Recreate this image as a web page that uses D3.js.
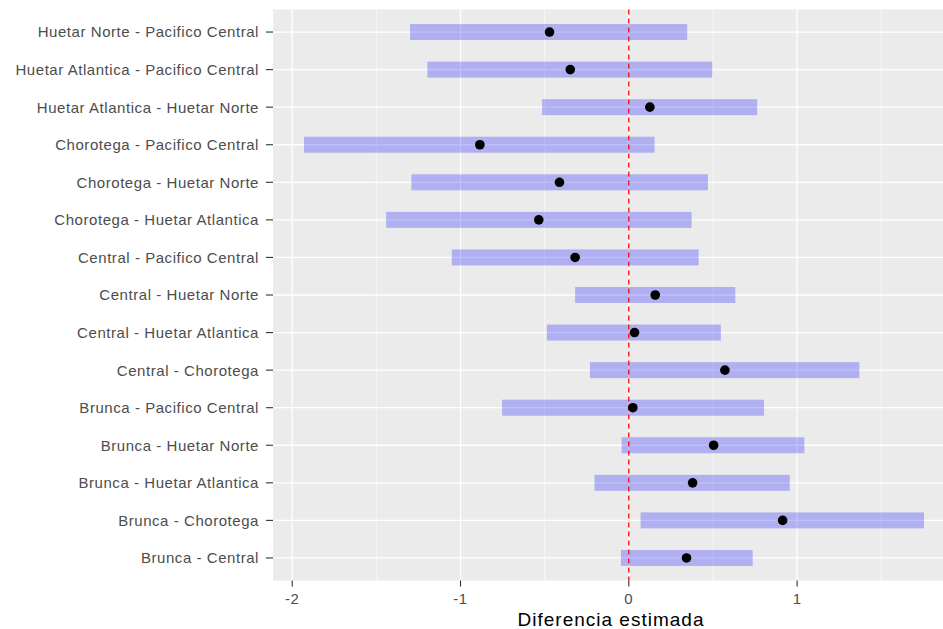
<!DOCTYPE html>
<html>
<head>
<meta charset="utf-8">
<script src="https://cdn.jsdelivr.net/npm/d3@7"></script>
<style>
  body { margin: 0; background: #fff; }
  svg { display: block; font-family: "Liberation Sans", Arial, sans-serif; }
  .grid-major { stroke: #fff; stroke-width: 1.3; }
  .grid-minor { stroke: #fff; stroke-width: 0.6; }
  .tick-label { fill: #4d4d4d; font-size: 15px; letter-spacing: 0.55px; }
  .tick-mark { stroke: #333; stroke-width: 1.1; }
</style>
</head>
<body>
<div id="chart"></div>
<script>
//////////////////////////////////////////////////////////
///////////////////////// Data ///////////////////////////
//////////////////////////////////////////////////////////

// Comparisons, bottom to top as drawn
var comparisons = [
  "Brunca - Central",
  "Brunca - Chorotega",
  "Brunca - Huetar Atlantica",
  "Brunca - Huetar Norte",
  "Brunca - Pacifico Central",
  "Central - Chorotega",
  "Central - Huetar Atlantica",
  "Central - Huetar Norte",
  "Central - Pacifico Central",
  "Chorotega - Huetar Atlantica",
  "Chorotega - Huetar Norte",
  "Chorotega - Pacifico Central",
  "Huetar Atlantica - Huetar Norte",
  "Huetar Atlantica - Pacifico Central",
  "Huetar Norte - Pacifico Central"
];
var estimate = [0.343, 0.914, 0.379, 0.504, 0.024, 0.571, 0.034, 0.157, -0.319, -0.535, -0.412, -0.885, 0.125, -0.348, -0.471];
var lower    = [-0.047, 0.070, -0.204, -0.043, -0.753, -0.231, -0.487, -0.319, -1.052, -1.442, -1.292, -1.930, -0.515, -1.197, -1.300];
var upper    = [0.736, 1.754, 0.956, 1.043, 0.803, 1.370, 0.547, 0.633, 0.415, 0.373, 0.470, 0.153, 0.763, 0.496, 0.347];
var xTicks = [-2, -1, 0, 1];
var xTitle = "Diferencia estimada";

var rows = comparisons.map(function(d, i) {
  return {name: d, est: estimate[i], lo: lower[i], hi: upper[i]};
});

//////////////////////////////////////////////////////////
//////////////////////// Set-up //////////////////////////
//////////////////////////////////////////////////////////

var width = 943, height = 629;
var panel = {left: 273, right: 955, top: 9.5, bottom: 580.5};

var svg = d3.select("#chart").append("svg")
  .attr("width", width)
  .attr("height", height);

// ggplot style 5% expansion of the data range
var xmin = d3.min(lower), xmax = d3.max(upper);
var pad = (xmax - xmin) * 0.05;
var x = d3.scaleLinear()
  .domain([xmin - pad, xmax + pad])
  .range([panel.left, panel.right]);

// discrete axis with 0.6 unit expansion on both ends
var n = comparisons.length;
var step = (panel.bottom - panel.top) / (n - 1 + 1.2);
var y = d3.scalePoint()
  .domain(comparisons.slice().reverse())
  .range([panel.top + 0.6 * step, panel.bottom - 0.6 * step]);

//////////////////////////////////////////////////////////
//////////////////////// Panel ///////////////////////////
//////////////////////////////////////////////////////////

svg.append("rect")
  .attr("x", panel.left)
  .attr("y", panel.top)
  .attr("width", panel.right - panel.left)
  .attr("height", panel.bottom - panel.top)
  .style("fill", "#ebebeb");

// minor grid between major ticks
var minorTicks = d3.range(-2.5, 2.01, 1).filter(function(d) {
  return x(d) >= panel.left && x(d) <= panel.right;
});
svg.selectAll(".grid-minor")
  .data(minorTicks)
  .enter().append("line")
  .attr("class", "grid-minor")
  .attr("x1", function(d) { return x(d); })
  .attr("x2", function(d) { return x(d); })
  .attr("y1", panel.top)
  .attr("y2", panel.bottom);

svg.selectAll(".grid-x")
  .data(xTicks)
  .enter().append("line")
  .attr("class", "grid-major")
  .attr("x1", function(d) { return x(d); })
  .attr("x2", function(d) { return x(d); })
  .attr("y1", panel.top)
  .attr("y2", panel.bottom);

svg.selectAll(".grid-y")
  .data(comparisons)
  .enter().append("line")
  .attr("class", "grid-major")
  .attr("x1", panel.left)
  .attr("x2", panel.right)
  .attr("y1", function(d) { return y(d); })
  .attr("y2", function(d) { return y(d); });

//////////////////////////////////////////////////////////
//////////////////////// Marks ///////////////////////////
//////////////////////////////////////////////////////////

var barHeight = 16;
svg.selectAll(".ci")
  .data(rows)
  .enter().append("rect")
  .attr("class", "ci")
  .attr("x", function(d) { return x(d.lo); })
  .attr("width", function(d) { return x(d.hi) - x(d.lo); })
  .attr("y", function(d) { return y(d.name) - barHeight / 2; })
  .attr("height", barHeight)
  .style("fill", "blue")
  .style("fill-opacity", 0.25);

//Reference line at zero
svg.append("line")
  .attr("x1", x(0))
  .attr("x2", x(0))
  .attr("y1", panel.top)
  .attr("y2", panel.bottom)
  .style("stroke", "red")
  .style("stroke-width", 1.3)
  .style("stroke-dasharray", "5,4");

svg.selectAll(".est")
  .data(rows)
  .enter().append("circle")
  .attr("class", "est")
  .attr("cx", function(d) { return x(d.est); })
  .attr("cy", function(d) { return y(d.name); })
  .attr("r", 4.8)
  .style("fill", "#000");

//////////////////////////////////////////////////////////
//////////////////////// Axes ////////////////////////////
//////////////////////////////////////////////////////////

//Y axis
svg.selectAll(".y-tick")
  .data(comparisons)
  .enter().append("line")
  .attr("class", "tick-mark")
  .attr("x1", panel.left - 7)
  .attr("x2", panel.left)
  .attr("y1", function(d) { return y(d); })
  .attr("y2", function(d) { return y(d); });

svg.selectAll(".y-label")
  .data(comparisons)
  .enter().append("text")
  .attr("class", "tick-label")
  .attr("x", panel.left - 14)
  .attr("y", function(d) { return y(d); })
  .attr("dy", "0.36em")
  .style("text-anchor", "end")
  .text(function(d) { return d; });

//X axis
svg.selectAll(".x-tick")
  .data(xTicks)
  .enter().append("line")
  .attr("class", "tick-mark")
  .attr("x1", function(d) { return x(d); })
  .attr("x2", function(d) { return x(d); })
  .attr("y1", panel.bottom)
  .attr("y2", panel.bottom + 6);

svg.selectAll(".x-label")
  .data(xTicks)
  .enter().append("text")
  .attr("class", "tick-label")
  .attr("x", function(d) { return x(d); })
  .attr("y", panel.bottom + 23)
  .style("text-anchor", "middle")
  .text(function(d) { return d; });

svg.append("text")
  .attr("x", 611)
  .attr("y", 626)
  .style("text-anchor", "middle")
  .style("font-size", "19px")
  .style("letter-spacing", "1px")
  .style("fill", "#000")
  .text(xTitle);
</script>
</body>
</html>
